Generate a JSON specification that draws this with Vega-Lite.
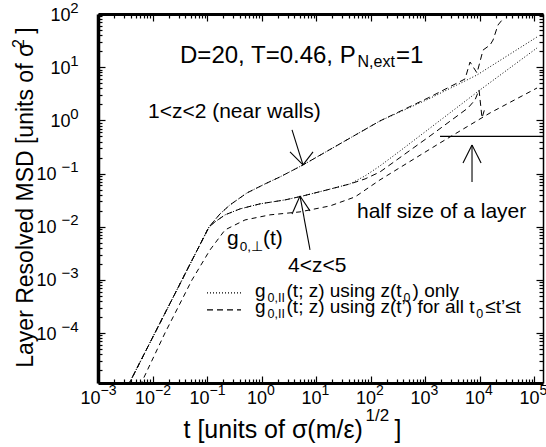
{
  "$schema": "https://vega.github.io/schema/vega-lite/v6.json",
  "width": 445,
  "height": 369,
  "autosize": {"type": "none"},
  "padding": {"left": 98, "top": 14, "right": 3, "bottom": 64},
  "background": "white",
  "config": {
    "view": {"stroke": null},
    "font": "Liberation Sans",
    "text": {"font": "Liberation Sans", "color": "black", "align": "left", "baseline": "alphabetic"},
    "axis": {
      "grid": false,
      "labelFont": "Liberation Sans",
      "titleFont": "Liberation Sans",
      "labelColor": "black",
      "titleColor": "black",
      "tickColor": "black",
      "domainColor": "black",
      "titleFontWeight": "normal",
      "labelOverlap": false,
      "labelFlush": false
    }
  },
  "datasets": {
    "msd": [
      {"curve": "1<z<2 z(t0)", "tracking": "z(t0) only", "t": 0.00355, "msd": 1.02e-5},
      {"curve": "1<z<2 z(t0)", "tracking": "z(t0) only", "t": 0.0111, "msd": 1.01e-4},
      {"curve": "1<z<2 z(t0)", "tracking": "z(t0) only", "t": 0.0348, "msd": 0.001},
      {"curve": "1<z<2 z(t0)", "tracking": "z(t0) only", "t": 0.109, "msd": 0.00991},
      {"curve": "1<z<2 z(t0)", "tracking": "z(t0) only", "t": 0.173, "msd": 0.0174},
      {"curve": "1<z<2 z(t0)", "tracking": "z(t0) only", "t": 0.264, "msd": 0.0257},
      {"curve": "1<z<2 z(t0)", "tracking": "z(t0) only", "t": 0.542, "msd": 0.0432},
      {"curve": "1<z<2 z(t0)", "tracking": "z(t0) only", "t": 1.16, "msd": 0.0638},
      {"curve": "1<z<2 z(t0)", "tracking": "z(t0) only", "t": 2.18, "msd": 0.0863},
      {"curve": "1<z<2 z(t0)", "tracking": "z(t0) only", "t": 5.77, "msd": 0.145},
      {"curve": "1<z<2 z(t0)", "tracking": "z(t0) only", "t": 149, "msd": 0.975},
      {"curve": "1<z<2 z(t0)", "tracking": "z(t0) only", "t": 1236, "msd": 2.6},
      {"curve": "1<z<2 z(t0)", "tracking": "z(t0) only", "t": 8990, "msd": 7.13},
      {"curve": "1<z<2 z(t0)", "tracking": "z(t0) only", "t": 113500, "msd": 37.0},

      {"curve": "1<z<2 z(t')", "tracking": "z(t') for all t'", "t": 0.00355, "msd": 1.02e-5},
      {"curve": "1<z<2 z(t')", "tracking": "z(t') for all t'", "t": 0.0111, "msd": 1.01e-4},
      {"curve": "1<z<2 z(t')", "tracking": "z(t') for all t'", "t": 0.0348, "msd": 0.001},
      {"curve": "1<z<2 z(t')", "tracking": "z(t') for all t'", "t": 0.109, "msd": 0.00991},
      {"curve": "1<z<2 z(t')", "tracking": "z(t') for all t'", "t": 0.173, "msd": 0.0174},
      {"curve": "1<z<2 z(t')", "tracking": "z(t') for all t'", "t": 0.264, "msd": 0.0257},
      {"curve": "1<z<2 z(t')", "tracking": "z(t') for all t'", "t": 0.542, "msd": 0.0432},
      {"curve": "1<z<2 z(t')", "tracking": "z(t') for all t'", "t": 1.16, "msd": 0.0638},
      {"curve": "1<z<2 z(t')", "tracking": "z(t') for all t'", "t": 2.18, "msd": 0.0863},
      {"curve": "1<z<2 z(t')", "tracking": "z(t') for all t'", "t": 5.77, "msd": 0.145},
      {"curve": "1<z<2 z(t')", "tracking": "z(t') for all t'", "t": 149, "msd": 0.975},
      {"curve": "1<z<2 z(t')", "tracking": "z(t') for all t'", "t": 1236, "msd": 2.75},
      {"curve": "1<z<2 z(t')", "tracking": "z(t') for all t'", "t": 5420, "msd": 6.0},
      {"curve": "1<z<2 z(t')", "tracking": "z(t') for all t'", "t": 6700, "msd": 12.5},
      {"curve": "1<z<2 z(t')", "tracking": "z(t') for all t'", "t": 8990, "msd": 7.78},
      {"curve": "1<z<2 z(t')", "tracking": "z(t') for all t'", "t": 11600, "msd": 21.0},
      {"curve": "1<z<2 z(t')", "tracking": "z(t') for all t'", "t": 15600, "msd": 26.1},
      {"curve": "1<z<2 z(t')", "tracking": "z(t') for all t'", "t": 17700, "msd": 32.4},
      {"curve": "1<z<2 z(t')", "tracking": "z(t') for all t'", "t": 21800, "msd": 62.1},
      {"curve": "1<z<2 z(t')", "tracking": "z(t') for all t'", "t": 25900, "msd": 77.1},

      {"curve": "4<z<5 z(t0)", "tracking": "z(t0) only", "t": 0.00355, "msd": 1.02e-5},
      {"curve": "4<z<5 z(t0)", "tracking": "z(t0) only", "t": 0.0111, "msd": 1.01e-4},
      {"curve": "4<z<5 z(t0)", "tracking": "z(t0) only", "t": 0.0348, "msd": 0.001},
      {"curve": "4<z<5 z(t0)", "tracking": "z(t0) only", "t": 0.109, "msd": 0.00991},
      {"curve": "4<z<5 z(t0)", "tracking": "z(t0) only", "t": 0.14, "msd": 0.0123},
      {"curve": "4<z<5 z(t0)", "tracking": "z(t0) only", "t": 0.214, "msd": 0.0167},
      {"curve": "4<z<5 z(t0)", "tracking": "z(t0) only", "t": 0.403, "msd": 0.0216},
      {"curve": "4<z<5 z(t0)", "tracking": "z(t0) only", "t": 0.938, "msd": 0.0269},
      {"curve": "4<z<5 z(t0)", "tracking": "z(t0) only", "t": 2.7, "msd": 0.0319},
      {"curve": "4<z<5 z(t0)", "tracking": "z(t0) only", "t": 5.77, "msd": 0.0379},
      {"curve": "4<z<5 z(t0)", "tracking": "z(t0) only", "t": 15.9, "msd": 0.0492},
      {"curve": "4<z<5 z(t0)", "tracking": "z(t0) only", "t": 42.1, "msd": 0.0638},
      {"curve": "4<z<5 z(t0)", "tracking": "z(t0) only", "t": 79.3, "msd": 0.0902},
      {"curve": "4<z<5 z(t0)", "tracking": "z(t0) only", "t": 149, "msd": 0.139},
      {"curve": "4<z<5 z(t0)", "tracking": "z(t0) only", "t": 348, "msd": 0.266},
      {"curve": "4<z<5 z(t0)", "tracking": "z(t0) only", "t": 10200, "msd": 3.73},
      {"curve": "4<z<5 z(t0)", "tracking": "z(t0) only", "t": 113500, "msd": 23.0},

      {"curve": "4<z<5 z(t')", "tracking": "z(t') for all t'", "t": 0.00355, "msd": 1.02e-5},
      {"curve": "4<z<5 z(t')", "tracking": "z(t') for all t'", "t": 0.0111, "msd": 1.01e-4},
      {"curve": "4<z<5 z(t')", "tracking": "z(t') for all t'", "t": 0.0348, "msd": 0.001},
      {"curve": "4<z<5 z(t')", "tracking": "z(t') for all t'", "t": 0.109, "msd": 0.00991},
      {"curve": "4<z<5 z(t')", "tracking": "z(t') for all t'", "t": 0.14, "msd": 0.0123},
      {"curve": "4<z<5 z(t')", "tracking": "z(t') for all t'", "t": 0.214, "msd": 0.0167},
      {"curve": "4<z<5 z(t')", "tracking": "z(t') for all t'", "t": 0.403, "msd": 0.0216},
      {"curve": "4<z<5 z(t')", "tracking": "z(t') for all t'", "t": 0.938, "msd": 0.0269},
      {"curve": "4<z<5 z(t')", "tracking": "z(t') for all t'", "t": 2.7, "msd": 0.0319},
      {"curve": "4<z<5 z(t')", "tracking": "z(t') for all t'", "t": 5.77, "msd": 0.0379},
      {"curve": "4<z<5 z(t')", "tracking": "z(t') for all t'", "t": 15.9, "msd": 0.0492},
      {"curve": "4<z<5 z(t')", "tracking": "z(t') for all t'", "t": 42.1, "msd": 0.0638},
      {"curve": "4<z<5 z(t')", "tracking": "z(t') for all t'", "t": 79.3, "msd": 0.0791},
      {"curve": "4<z<5 z(t')", "tracking": "z(t') for all t'", "t": 149, "msd": 0.107},
      {"curve": "4<z<5 z(t')", "tracking": "z(t') for all t'", "t": 1236, "msd": 0.509},
      {"curve": "4<z<5 z(t')", "tracking": "z(t') for all t'", "t": 6150, "msd": 1.71},
      {"curve": "4<z<5 z(t')", "tracking": "z(t') for all t'", "t": 8260, "msd": 2.42},
      {"curve": "4<z<5 z(t')", "tracking": "z(t') for all t'", "t": 9800, "msd": 3.73},
      {"curve": "4<z<5 z(t')", "tracking": "z(t') for all t'", "t": 11100, "msd": 1.11},
      {"curve": "4<z<5 z(t')", "tracking": "z(t') for all t'", "t": 12600, "msd": 1.71},

      {"curve": "perp", "tracking": "perpendicular", "t": 0.0059, "msd": 1.02e-5},
      {"curve": "perp", "tracking": "perpendicular", "t": 0.017, "msd": 1.01e-4},
      {"curve": "perp", "tracking": "perpendicular", "t": 0.0531, "msd": 0.001},
      {"curve": "perp", "tracking": "perpendicular", "t": 0.1135, "msd": 0.00366},
      {"curve": "perp", "tracking": "perpendicular", "t": 0.214, "msd": 0.0087},
      {"curve": "perp", "tracking": "perpendicular", "t": 0.498, "msd": 0.0134},
      {"curve": "perp", "tracking": "perpendicular", "t": 1.43, "msd": 0.0167},
      {"curve": "perp", "tracking": "perpendicular", "t": 5.08, "msd": 0.019},
      {"curve": "perp", "tracking": "perpendicular", "t": 18.1, "msd": 0.0246},
      {"curve": "perp", "tracking": "perpendicular", "t": 52.0, "msd": 0.0363},
      {"curve": "perp", "tracking": "perpendicular", "t": 149, "msd": 0.0759},
      {"curve": "perp", "tracking": "perpendicular", "t": 1884, "msd": 0.376},
      {"curve": "perp", "tracking": "perpendicular", "t": 15600, "msd": 1.38},
      {"curve": "perp", "tracking": "perpendicular", "t": 113500, "msd": 4.06}
    ],
    "halfLayer": [
      {"t": 1884, "t2": 146000, "msd": 0.5}
    ],
    "arrows": [
      {"t": 3.63, "msd": 0.66, "t2": 5.77, "msd2": 0.145},
      {"t": 3.33, "msd": 0.2547, "t2": 5.77, "msd2": 0.145},
      {"t": 8.81, "msd": 0.2547, "t2": 5.77, "msd2": 0.145},
      {"t": 7.76, "msd": 0.00366, "t2": 5.08, "msd2": 0.0379},
      {"t": 3.63, "msd": 0.0174, "t2": 5.08, "msd2": 0.0379},
      {"t": 7.76, "msd": 0.0198, "t2": 5.08, "msd2": 0.0379},
      {"t": 7278, "msd": 0.0695, "t2": 7278, "msd2": 0.345},
      {"t": 4977, "msd": 0.158, "t2": 7278, "msd2": 0.345},
      {"t": 10670, "msd": 0.158, "t2": 7278, "msd2": 0.345}
    ],
    "notes": [
      {"role": "title", "t": 0.032, "msd": 12.0, "text": "D=20, T=0.46, P"},
      {"role": "titlesub", "t": 57.7, "msd": 10.1, "text": "N,ext"},
      {"role": "title", "t": 294, "msd": 12.0, "text": "=1"},
      {"role": "note", "t": 0.00826, "msd": 1.11, "text": "1<z<2 (near walls)"},
      {"role": "note", "t": 3.06, "msd": 0.00141, "text": "4<z<5"},
      {"role": "note", "t": 56.5, "msd": 0.0146, "text": "half size of a layer"},
      {"role": "note", "t": 0.233, "msd": 0.00455, "text": "g"},
      {"role": "notesub", "t": 0.398, "msd": 0.00351, "text": "0,⊥"},
      {"role": "note", "t": 1.065, "msd": 0.00455, "text": "(t)"},
      {"role": "legend", "t": 0.76, "msd": 4.79e-4, "text": "g"},
      {"role": "legendsub", "t": 1.288, "msd": 3.86e-4, "text": "0,II"},
      {"role": "legend", "t": 2.876, "msd": 4.79e-4, "text": "(t; z) using z(t"},
      {"role": "legendsub", "t": 403, "msd": 3.86e-4, "text": "0"},
      {"role": "legend", "t": 590, "msd": 4.79e-4, "text": ") only"},
      {"role": "legend", "t": 0.76, "msd": 2.4e-4, "text": "g"},
      {"role": "legendsub", "t": 1.288, "msd": 1.93e-4, "text": "0,II"},
      {"role": "legend", "t": 2.876, "msd": 2.4e-4, "text": "(t; z) using z(t’) for all t"},
      {"role": "legendsub", "t": 8730, "msd": 1.93e-4, "text": "0"},
      {"role": "legend", "t": 12720, "msd": 2.4e-4, "text": "≤t’≤t"}
    ],
    "legendLines": [
      {"tracking": "z(t0) only", "t": 0.1, "t2": 0.421, "msd": 5.7e-4},
      {"tracking": "z(t') for all t'", "t": 0.1, "t2": 0.421, "msd": 2.73e-4}
    ]
  },
  "resolve": {"axis": {"x": "independent", "y": "independent"}},
  "layer": [
    {
      "data": {"name": "msd"},
      "mark": {"type": "line", "color": "black", "strokeWidth": 1, "clip": true},
      "encoding": {
        "x": {
          "field": "t", "type": "quantitative",
          "scale": {"type": "log", "domain": [0.001, 146000], "nice": false},
          "axis": {
            "orient": "bottom",
            "values": [0.001,0.002,0.003,0.004,0.005,0.006,0.007,0.008,0.009,0.01,0.02,0.03,0.04,0.05,0.06,0.07,0.08,0.09,0.1,0.2,0.3,0.4,0.5,0.6,0.7,0.8,0.9,1,2,3,4,5,6,7,8,9,10,20,30,40,50,60,70,80,90,100,200,300,400,500,600,700,800,900,1000,2000,3000,4000,5000,6000,7000,8000,9000,10000,20000,30000,40000,50000,60000,70000,80000,90000,100000],
            "labelExpr": "abs(log(datum.value)/LN10 - round(log(datum.value)/LN10)) < 1e-6 ? '10' : ''",
            "labelFontSize": 18,
            "labelPadding": 13,
            "labelOffset": {"condition": {"test": "datum.value < 0.5", "value": -8}, "value": -5},
            "tickSize": {"condition": {"test": "abs(log(datum.value)/LN10 - round(log(datum.value)/LN10)) < 1e-6", "value": -7}, "value": -4},
            "tickWidth": 1.2,
            "domainWidth": 3,
            "title": "t [units of σ(m/ε)",
            "titleFontSize": 25,
            "titleAlign": "left",
            "titleBaseline": "alphabetic",
            "titleX": 85,
            "titleY": 54
          }
        },
        "y": {
          "field": "msd", "type": "quantitative",
          "scale": {"type": "log", "domain": [1.15e-5, 100], "nice": false},
          "axis": {
            "orient": "left",
            "values": [2e-5,3e-5,4e-5,5e-5,6e-5,7e-5,8e-5,9e-5,1e-4,2e-4,3e-4,4e-4,5e-4,6e-4,7e-4,8e-4,9e-4,0.001,0.002,0.003,0.004,0.005,0.006,0.007,0.008,0.009,0.01,0.02,0.03,0.04,0.05,0.06,0.07,0.08,0.09,0.1,0.2,0.3,0.4,0.5,0.6,0.7,0.8,0.9,1,2,3,4,5,6,7,8,9,10,20,30,40,50,60,70,80,90,100],
            "labelExpr": "abs(log(datum.value)/LN10 - round(log(datum.value)/LN10)) < 1e-6 ? '10' : ''",
            "labelFontSize": 18,
            "labelPadding": {"condition": {"test": "datum.value < 0.5", "value": 49}, "value": 35},
            "labelOffset": 1,
            "tickSize": {"condition": {"test": "abs(log(datum.value)/LN10 - round(log(datum.value)/LN10)) < 1e-6", "value": -7}, "value": -4},
            "tickWidth": 1.2,
            "domainWidth": 3.5,
            "title": "Layer Resolved MSD [units of σ\u2009\u2009]",
            "titleFontSize": 23,
            "titleAngle": 270,
            "titleAlign": "center",
            "titleBaseline": "alphabetic",
            "titleX": -66,
            "titleY": 183
          }
        },
        "detail": {"field": "curve", "type": "nominal"},
        "strokeDash": {
          "field": "tracking", "type": "nominal",
          "scale": {"domain": ["z(t0) only", "z(t') for all t'", "perpendicular"], "range": [[1, 2], [6, 4], [5, 4]]},
          "legend": null
        }
      }
    },
    {
      "data": {"name": "halfLayer"},
      "mark": {"type": "rule", "color": "black", "strokeWidth": 1.2},
      "encoding": {
        "x": {
          "field": "t", "type": "quantitative",
          "scale": {"type": "log", "domain": [0.001, 146000], "nice": false},
          "axis": {
            "orient": "top",
            "values": [0.001,0.002,0.003,0.004,0.005,0.006,0.007,0.008,0.009,0.01,0.02,0.03,0.04,0.05,0.06,0.07,0.08,0.09,0.1,0.2,0.3,0.4,0.5,0.6,0.7,0.8,0.9,1,2,3,4,5,6,7,8,9,10,20,30,40,50,60,70,80,90,100,200,300,400,500,600,700,800,900,1000,2000,3000,4000,5000,6000,7000,8000,9000,10000,20000,30000,40000,50000,60000,70000,80000,90000,100000],
            "labels": false,
            "tickSize": {"condition": {"test": "abs(log(datum.value)/LN10 - round(log(datum.value)/LN10)) < 1e-6", "value": -7}, "value": -4},
            "tickWidth": 1.2,
            "domainWidth": 3,
            "title": "]",
            "titleFontSize": 25,
            "titleAlign": "left",
            "titleBaseline": "alphabetic",
            "titleX": 296,
            "titleY": 423
          }
        },
        "x2": {"field": "t2"},
        "y": {
          "field": "msd", "type": "quantitative",
          "scale": {"type": "log", "domain": [1.15e-5, 100], "nice": false},
          "axis": {
            "orient": "right",
            "values": [2e-5,3e-5,4e-5,5e-5,6e-5,7e-5,8e-5,9e-5,1e-4,2e-4,3e-4,4e-4,5e-4,6e-4,7e-4,8e-4,9e-4,0.001,0.002,0.003,0.004,0.005,0.006,0.007,0.008,0.009,0.01,0.02,0.03,0.04,0.05,0.06,0.07,0.08,0.09,0.1,0.2,0.3,0.4,0.5,0.6,0.7,0.8,0.9,1,2,3,4,5,6,7,8,9,10,20,30,40,50,60,70,80,90,100],
            "labels": false,
            "tickSize": {"condition": {"test": "abs(log(datum.value)/LN10 - round(log(datum.value)/LN10)) < 1e-6", "value": -7}, "value": -4},
            "tickWidth": 1.2,
            "domainWidth": 1.5,
            "title": null
          }
        }
      }
    },
    {
      "data": {"name": "arrows"},
      "mark": {"type": "rule", "color": "black", "strokeWidth": 1.1},
      "encoding": {
        "x": {
          "field": "t", "type": "quantitative",
          "scale": {"type": "log", "domain": [0.001, 146000], "nice": false},
          "axis": {
            "orient": "bottom",
            "values": [0.001, 0.01, 0.1, 1, 10, 100, 1000, 10000, 100000],
            "labelExpr": "format(round(log(datum.value)/LN10), 'd')",
            "labelFontSize": 14,
            "labelAlign": "left",
            "labelBaseline": "top",
            "labelPadding": 0,
            "labelOffset": {"condition": {"test": "datum.value < 0.5", "value": 2}, "value": 5},
            "ticks": false,
            "domain": false,
            "title": "1/2",
            "titleFontSize": 17,
            "titleAlign": "left",
            "titleBaseline": "alphabetic",
            "titleX": 267,
            "titleY": 37
          }
        },
        "y": {
          "field": "msd", "type": "quantitative",
          "scale": {"type": "log", "domain": [1.15e-5, 100], "nice": false},
          "axis": {
            "orient": "left",
            "values": [1e-4, 0.001, 0.01, 0.1, 1, 10, 100],
            "labelExpr": "format(round(log(datum.value)/LN10), 'd')",
            "labelFontSize": 15,
            "labelAlign": "right",
            "labelBaseline": "middle",
            "labelPadding": 20,
            "labelOffset": -7,
            "ticks": false,
            "domain": false,
            "title": "2",
            "titleFontSize": 16,
            "titleAngle": 270,
            "titleAlign": "center",
            "titleBaseline": "alphabetic",
            "titleX": -75,
            "titleY": 29
          }
        },
        "x2": {"field": "t2"},
        "y2": {"field": "msd2"}
      }
    },
    {
      "data": {"name": "notes"},
      "transform": [{"filter": "datum.role == 'title'"}],
      "mark": {"type": "text", "fontSize": 24},
      "encoding": {
        "x": {"field": "t", "type": "quantitative", "scale": {"type": "log", "domain": [0.001, 146000], "nice": false}, "axis": null},
        "y": {"field": "msd", "type": "quantitative", "scale": {"type": "log", "domain": [1.15e-5, 100], "nice": false}, "axis": null},
        "text": {"field": "text"}
      }
    },
    {
      "data": {"name": "notes"},
      "transform": [{"filter": "datum.role == 'titlesub'"}],
      "mark": {"type": "text", "fontSize": 16},
      "encoding": {
        "x": {"field": "t", "type": "quantitative", "scale": {"type": "log", "domain": [0.001, 146000], "nice": false}, "axis": null},
        "y": {"field": "msd", "type": "quantitative", "scale": {"type": "log", "domain": [1.15e-5, 100], "nice": false}, "axis": null},
        "text": {"field": "text"}
      }
    },
    {
      "data": {"name": "notes"},
      "transform": [{"filter": "datum.role == 'note'"}],
      "mark": {"type": "text", "fontSize": 21},
      "encoding": {
        "x": {"field": "t", "type": "quantitative", "scale": {"type": "log", "domain": [0.001, 146000], "nice": false}, "axis": null},
        "y": {"field": "msd", "type": "quantitative", "scale": {"type": "log", "domain": [1.15e-5, 100], "nice": false}, "axis": null},
        "text": {"field": "text"}
      }
    },
    {
      "data": {"name": "notes"},
      "transform": [{"filter": "datum.role == 'notesub'"}],
      "mark": {"type": "text", "fontSize": 13.5},
      "encoding": {
        "x": {"field": "t", "type": "quantitative", "scale": {"type": "log", "domain": [0.001, 146000], "nice": false}, "axis": null},
        "y": {"field": "msd", "type": "quantitative", "scale": {"type": "log", "domain": [1.15e-5, 100], "nice": false}, "axis": null},
        "text": {"field": "text"}
      }
    },
    {
      "data": {"name": "notes"},
      "transform": [{"filter": "datum.role == 'legend'"}],
      "mark": {"type": "text", "fontSize": 19},
      "encoding": {
        "x": {"field": "t", "type": "quantitative", "scale": {"type": "log", "domain": [0.001, 146000], "nice": false}, "axis": null},
        "y": {"field": "msd", "type": "quantitative", "scale": {"type": "log", "domain": [1.15e-5, 100], "nice": false}, "axis": null},
        "text": {"field": "text"}
      }
    },
    {
      "data": {"name": "notes"},
      "transform": [{"filter": "datum.role == 'legendsub'"}],
      "mark": {"type": "text", "fontSize": 12.5},
      "encoding": {
        "x": {"field": "t", "type": "quantitative", "scale": {"type": "log", "domain": [0.001, 146000], "nice": false}, "axis": null},
        "y": {"field": "msd", "type": "quantitative", "scale": {"type": "log", "domain": [1.15e-5, 100], "nice": false}, "axis": null},
        "text": {"field": "text"}
      }
    },
    {
      "data": {"name": "legendLines"},
      "mark": {"type": "rule", "color": "black", "strokeWidth": 1.1},
      "encoding": {
        "x": {"field": "t", "type": "quantitative", "scale": {"type": "log", "domain": [0.001, 146000], "nice": false}, "axis": null},
        "x2": {"field": "t2"},
        "y": {"field": "msd", "type": "quantitative", "scale": {"type": "log", "domain": [1.15e-5, 100], "nice": false}, "axis": null},
        "strokeDash": {"field": "tracking", "type": "nominal", "legend": null}
      }
    }
  ]
}
